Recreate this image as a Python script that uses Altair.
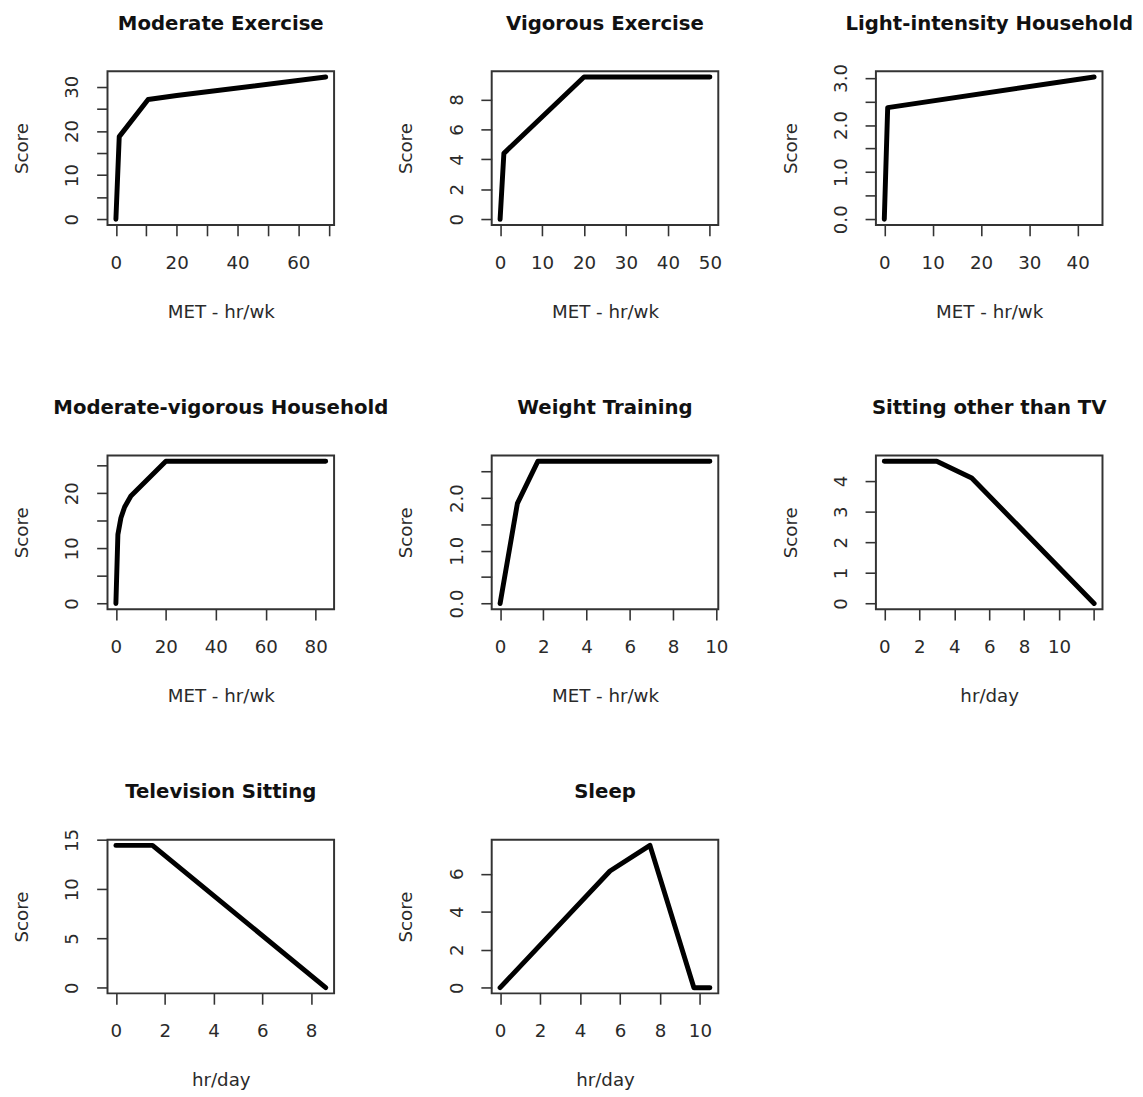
import altair as alt
import pandas as pd

titles = ["Moderate Exercise", "Vigorous Exercise", "Light-intensity Household",
          "Moderate-vigorous Household", "Weight Training", "Sitting other than TV",
          "Television Sitting", "Sleep"]
x_titles = ["MET - hr/wk", "MET - hr/wk", "MET - hr/wk", "MET - hr/wk", "MET - hr/wk",
            "hr/day", "hr/day", "hr/day"]
y_title = "Score"

# series (x, score)
mod_ex_x = [0, 1.1, 10.6, 20, 69]
mod_ex_y = [0, 18.7, 27.1, 28.0, 32.2]
vig_x = [0, 0.9, 20, 50]
vig_y = [0, 4.4, 9.5, 9.5]
light_x = [0, 0.7, 43.4]
light_y = [0, 2.37, 3.02]
modvig_x = [0, 0.8, 2, 3.5, 6, 20, 84]
modvig_y = [0, 12.5, 15.5, 17.5, 19.5, 25.8, 25.8]
weight_x = [0, 0.8, 1.75, 9.7]
weight_y = [0, 1.9, 2.7, 2.7]
sit_x = [0, 3, 5, 12]
sit_y = [4.65, 4.65, 4.1, 0]
tv_x = [0, 1.5, 8.6]
tv_y = [14.45, 14.45, 0]
sleep_x = [0, 5.5, 7.5, 9.7, 10.5]
sleep_y = [0, 6.15, 7.5, 0, 0]

series_x = [mod_ex_x, vig_x, light_x, modvig_x, weight_x, sit_x, tv_x, sleep_x]
series_y = [mod_ex_y, vig_y, light_y, modvig_y, weight_y, sit_y, tv_y, sleep_y]

# ticks and which ticks carry labels
x_ticks = [[0, 10, 20, 30, 40, 50, 60, 70], [0, 10, 20, 30, 40, 50], [0, 10, 20, 30, 40],
           [0, 20, 40, 60, 80], [0, 2, 4, 6, 8, 10], [0, 2, 4, 6, 8, 10, 12],
           [0, 2, 4, 6, 8], [0, 2, 4, 6, 8, 10]]
x_labels = [[0, 20, 40, 60], [0, 10, 20, 30, 40, 50], [0, 10, 20, 30, 40],
            [0, 20, 40, 60, 80], [0, 2, 4, 6, 8, 10], [0, 2, 4, 6, 8, 10],
            [0, 2, 4, 6, 8], [0, 2, 4, 6, 8, 10]]
y_ticks = [[0, 5, 10, 15, 20, 25, 30], [0, 2, 4, 6, 8], [0, 0.5, 1, 1.5, 2, 2.5, 3],
           [0, 5, 10, 15, 20, 25], [0, 0.5, 1, 1.5, 2, 2.5], [0, 1, 2, 3, 4],
           [0, 5, 10, 15], [0, 2, 4, 6]]
y_labels = [[0, 10, 20, 30], [0, 2, 4, 6, 8], [0, 1, 2, 3],
            [0, 10, 20], [0, 1, 2], [0, 1, 2, 3, 4],
            [0, 5, 10, 15], [0, 2, 4, 6]]
y_formats = ["d", "d", ".1f", "d", ".1f", "d", "d", "d"]

W, H = 230, 156
AX_FONT = "DejaVu Sans"
AX_SIZE = 18.5


def r_domain(v):
    lo, hi = min(v), max(v)
    ext = 0.04 * (hi - lo)
    return [lo - ext, hi + ext]


def label_expr(vals):
    return "indexof([" + ",".join(str(v) for v in vals) + "], datum.value) >= 0 ? datum.label : ''"


common = dict(domain=False, grid=False, tickSize=11, tickColor="#333", tickWidth=1.6,
              labelFont=AX_FONT, labelFontSize=AX_SIZE, labelColor="#2a2a2a",
              labelFlush=False, labelOverlap=False,
              titleFont=AX_FONT, titleFontSize=AX_SIZE, titleFontWeight="normal",
              titleColor="#2a2a2a")

panels = []
for i in range(8):
    df = pd.DataFrame({"x": series_x[i], "y": series_y[i]})
    xa = alt.Axis(values=x_ticks[i], labelExpr=label_expr(x_labels[i]), format="d",
                  title=x_titles[i], labelPadding=18, titleY=94, titleBaseline="alphabetic",
                  **common)
    ya = alt.Axis(values=y_ticks[i], labelExpr=label_expr(y_labels[i]), format=y_formats[i],
                  title=y_title, labelAngle=270, labelAlign="center", labelBaseline="bottom",
                  labelPadding=15, titleX=-87, titleBaseline="middle", **common)
    line = alt.Chart(df).mark_line(color="black", strokeWidth=5, strokeCap="round",
                                   strokeJoin="round").encode(
        x=alt.X("x:Q", scale=alt.Scale(domain=r_domain(series_x[i]), nice=False, zero=False), axis=xa),
        y=alt.Y("y:Q", scale=alt.Scale(domain=r_domain(series_y[i]), nice=False, zero=False), axis=ya),
    )
    ttl = alt.Chart(pd.DataFrame({"t": [titles[i]]})).mark_text(
        font="DejaVu Sans", fontSize=20, fontWeight="bold", color="#111",
        align="center", baseline="alphabetic",
    ).encode(text="t:N", x=alt.value(W / 2), y=alt.value(-42))
    panels.append(alt.layer(line, ttl).properties(width=W, height=H))

chart = alt.concat(*panels, columns=3, spacing={"row": 234, "column": 160}, bounds="flush").properties(
    padding={"left": 4, "top": -3, "right": 0, "bottom": 0},
    background="white",
).configure_view(stroke="#333", strokeWidth=2)

chart.save("out.html", embed_options={"renderer": "svg", "actions": False})
